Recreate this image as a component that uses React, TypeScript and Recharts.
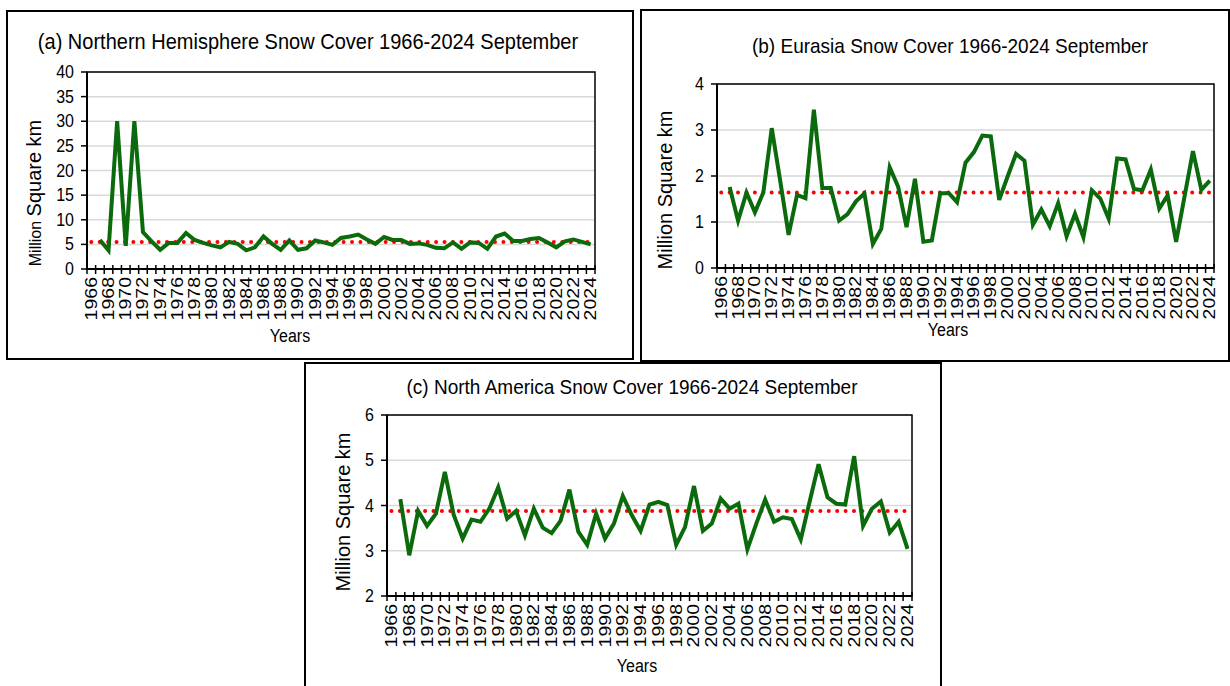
import React from 'react';
import { LineChart, Line, XAxis, YAxis, CartesianGrid, ReferenceArea, Label } from 'recharts';

const years = [
  1966, 1967, 1968, 1969, 1970, 1971, 1972, 1973, 1974, 1975, 1976, 1977, 1978, 1979, 1980,
  1981, 1982, 1983, 1984, 1985, 1986, 1987, 1988, 1989, 1990, 1991, 1992, 1993, 1994, 1995,
  1996, 1997, 1998, 1999, 2000, 2001, 2002, 2003, 2004, 2005, 2006, 2007, 2008, 2009, 2010,
  2011, 2012, 2013, 2014, 2015, 2016, 2017, 2018, 2019, 2020, 2021, 2022, 2023, 2024,
];

// million km², no value for 1966
const northernHemisphere = [
  null, 5.9, 3.8, 30, 4.7, 30, 7.5, 5.6, 3.9, 5.3, 5.3, 7.3, 5.9, 5.3, 4.8,
  4.4, 5.5, 5.1, 3.8, 4.4, 6.6, 5.1, 3.9, 5.8, 3.9, 4.2, 5.8, 5.4, 4.9, 6.3,
  6.6, 7.0, 6.0, 5.1, 6.5, 5.9, 5.9, 5.1, 5.2, 4.9, 4.3, 4.2, 5.4, 4.1, 5.4,
  5.3, 4.1, 6.6, 7.2, 5.7, 5.7, 6.1, 6.3, 5.4, 4.4, 5.6, 6.0, 5.5, 5.0,
];

const eurasia = [
  null, 1.76, 1.03, 1.64, 1.21, 1.64, 3.04, 1.9, 0.72, 1.59, 1.52, 3.44, 1.74, 1.74, 1.03,
  1.17, 1.45, 1.62, 0.52, 0.85, 2.19, 1.77, 0.89, 1.94, 0.57, 0.6, 1.62, 1.63, 1.43, 2.29,
  2.52, 2.88, 2.86, 1.48, 1.99, 2.48, 2.33, 0.94, 1.27, 0.91, 1.41, 0.69, 1.18, 0.67, 1.69,
  1.51, 1.07, 2.38, 2.36, 1.72, 1.69, 2.14, 1.29, 1.58, 0.57, 1.55, 2.54, 1.7, 1.9,
];

const northAmerica = [
  null, 4.14, 2.9, 3.88, 3.55, 3.82, 4.74, 3.79, 3.27, 3.69, 3.64, 3.93, 4.4, 3.71, 3.88,
  3.34, 3.93, 3.51, 3.39, 3.66, 4.35, 3.42, 3.13, 3.82, 3.27, 3.6, 4.21, 3.79, 3.44, 4.02,
  4.08, 4.01, 3.13, 3.53, 4.43, 3.44, 3.6, 4.15, 3.93, 4.04, 3.03, 3.6, 4.13, 3.64, 3.74,
  3.7, 3.25, 4.09, 4.91, 4.18, 4.04, 4.02, 5.09, 3.55, 3.93, 4.09, 3.4, 3.64, 3.04,
];

const nhAverage = 5.5;
const euAverage = 1.64;
const naAverage = 3.88;

const nhTicks = [0, 5, 10, 15, 20, 25, 30, 35, 40];
const euTicks = [0, 1, 2, 3, 4];
const naTicks = [2, 3, 4, 5, 6];

const yearLabels = years.filter((y) => y % 2 === 0);
const yearEdges = [...years.map((y) => y - 0.5), years[years.length - 1] + 0.5];
const xTicks = [...yearEdges, ...yearLabels].sort((a, b) => a - b);

const FONT = '"Liberation Sans", Arial, sans-serif';
const GREEN = '#0b6a0b';
const RED = '#ff0000';

type Box = { left: number; top: number; width: number; height: number };
type Plot = { left: number; top: number; right: number; bottom: number };

const XTick = (props: any) => {
  const { x, y, payload } = props;
  const v = payload.value;
  if (!Number.isInteger(v)) {
    return <line x1={x} x2={x} y1={y - 4} y2={y + 5} stroke="#000" strokeWidth={1.5} />;
  }
  // labels in the source are drawn a bit elongated
  return (
    <text
      transform={`translate(${x + 5.5},${y + 8}) rotate(-90) scale(1.22,1)`}
      textAnchor="end"
      fontSize={16}
      fontFamily={FONT}
      fill="#000"
    >
      {v}
    </text>
  );
};

const YTick = (props: any) => {
  const { x, y, payload } = props;
  return (
    <text
      transform={`translate(${x},${y + 6}) scale(1,1.1)`}
      textAnchor="end"
      fontSize={16}
      fontFamily={FONT}
      fill="#000"
    >
      {payload.value}
    </text>
  );
};

interface PanelProps {
  box: Box;
  plot: Plot;
  values: (number | null)[];
  average: number;
  ticks: number[];
  yLabel: React.ReactNode;
  yLabelX: number;
  yLabelY: number;
  xLabelX: number;
  xLabelY: number;
}

function Panel({ box, plot, values, average, ticks, yLabel, yLabelX, yLabelY, xLabelX, xLabelY }: PanelProps) {
  const ox = box.left + 2;
  const oy = box.top + 2;
  const w = box.width - 4;
  const h = box.height - 4;
  const data = years.map((year, i) => ({ year, value: values[i], average }));
  const yMin = ticks[0];
  const yMax = ticks[ticks.length - 1];

  return (
    <div
      style={{
        position: 'absolute',
        left: box.left,
        top: box.top,
        width: box.width,
        height: box.height,
        border: '2px solid #000',
        boxSizing: 'border-box',
        background: '#fff',
      }}
    >
      <LineChart
        width={w}
        height={h}
        data={data}
        margin={{ top: plot.top - oy, right: ox + w - plot.right, bottom: 0, left: 0 }}
      >
        <CartesianGrid vertical={false} stroke="#d9d9d9" strokeWidth={1.5} />
        <XAxis
          type="number"
          dataKey="year"
          domain={[1965.5, 2024.5]}
          ticks={xTicks}
          interval={0}
          tickSize={0}
          tickMargin={0}
          tickLine={false}
          axisLine={{ stroke: '#000', strokeWidth: 2 }}
          height={oy + h - plot.bottom}
          tick={(p: any) => <XTick {...p} />}
        >
          <Label
            content={() => (
              <text
                transform={`translate(${xLabelX - ox},${xLabelY - oy + 6}) scale(1,1.1)`}
                textAnchor="middle"
                fontSize={16}
                fontFamily={FONT}
                fill="#000"
              >
                Years
              </text>
            )}
          />
        </XAxis>
        <YAxis
          type="number"
          domain={[yMin, yMax]}
          ticks={ticks}
          interval={0}
          width={plot.left - ox}
          tickSize={6}
          tickMargin={7}
          axisLine={{ stroke: '#000', strokeWidth: 2 }}
          tickLine={{ stroke: '#000', strokeWidth: 1.5 }}
          tick={(p: any) => <YTick {...p} />}
        >
          <Label
            content={() => (
              <text
                transform={`translate(${yLabelX - ox},${yLabelY - oy}) rotate(-90)`}
                textAnchor="middle"
                fontFamily={FONT}
                fill="#000"
              >
                {yLabel}
              </text>
            )}
          />
        </YAxis>
        <Line
          dataKey="average"
          stroke={RED}
          strokeWidth={4}
          strokeDasharray="0.01 8.4"
          strokeLinecap="round"
          dot={false}
          activeDot={false}
          isAnimationActive={false}
        />
        <Line
          dataKey="value"
          stroke={GREEN}
          strokeWidth={4}
          dot={false}
          activeDot={false}
          isAnimationActive={false}
        />
        <ReferenceArea
          x1={1965.5}
          x2={2024.5}
          y1={yMin}
          y2={yMax}
          fill="none"
          fillOpacity={0}
          stroke="#000"
          strokeWidth={1.5}
        />
      </LineChart>
    </div>
  );
}

const Title = ({ text, x, y, size }: { text: string; x: number; y: number; size: number }) => (
  <div
    style={{
      position: 'absolute',
      left: x - 320,
      width: 640,
      top: y - 11,
      lineHeight: '22px',
      textAlign: 'center',
      fontFamily: FONT,
      fontSize: size,
      color: '#000',
      whiteSpace: 'nowrap',
      transform: 'scaleY(1.1)',
    }}
  >
    {text}
  </div>
);

export default function App() {
  return (
    <div
      style={{
        position: 'absolute',
        left: 0,
        top: 0,
        width: 1230,
        height: 686,
        overflow: 'hidden',
        background: '#fff',
      }}
    >
      <Panel
        box={{ left: 6, top: 10, width: 628, height: 350 }}
        plot={{ left: 87, top: 72, right: 595, bottom: 269 }}
        values={northernHemisphere}
        average={nhAverage}
        ticks={nhTicks}
        yLabel={
          <>
            <tspan fontSize={16}>Million </tspan>
            <tspan fontSize={20}>Square km</tspan>
          </>
        }
        yLabelX={41}
        yLabelY={193}
        xLabelX={290}
        xLabelY={336}
      />
      <Panel
        box={{ left: 640, top: 9, width: 590, height: 353 }}
        plot={{ left: 717, top: 84, right: 1214, bottom: 268 }}
        values={eurasia}
        average={euAverage}
        ticks={euTicks}
        yLabel={<tspan fontSize={20}>Million Square km</tspan>}
        yLabelX={672}
        yLabelY={190}
        xLabelX={948}
        xLabelY={330}
      />
      <Panel
        box={{ left: 304, top: 362, width: 638, height: 340 }}
        plot={{ left: 387, top: 415, right: 912, bottom: 596 }}
        values={northAmerica}
        average={naAverage}
        ticks={naTicks}
        yLabel={<tspan fontSize={20}>Million Square km</tspan>}
        yLabelX={350}
        yLabelY={512}
        xLabelX={637}
        xLabelY={666}
      />
      <Title text="(a) Northern Hemisphere Snow Cover 1966-2024 September" x={308} y={41} size={20} />
      <Title text="(b) Eurasia Snow Cover 1966-2024 September" x={950} y={46} size={19} />
      <Title text="(c) North America Snow Cover 1966-2024 September" x={632} y={387} size={19} />
    </div>
  );
}
